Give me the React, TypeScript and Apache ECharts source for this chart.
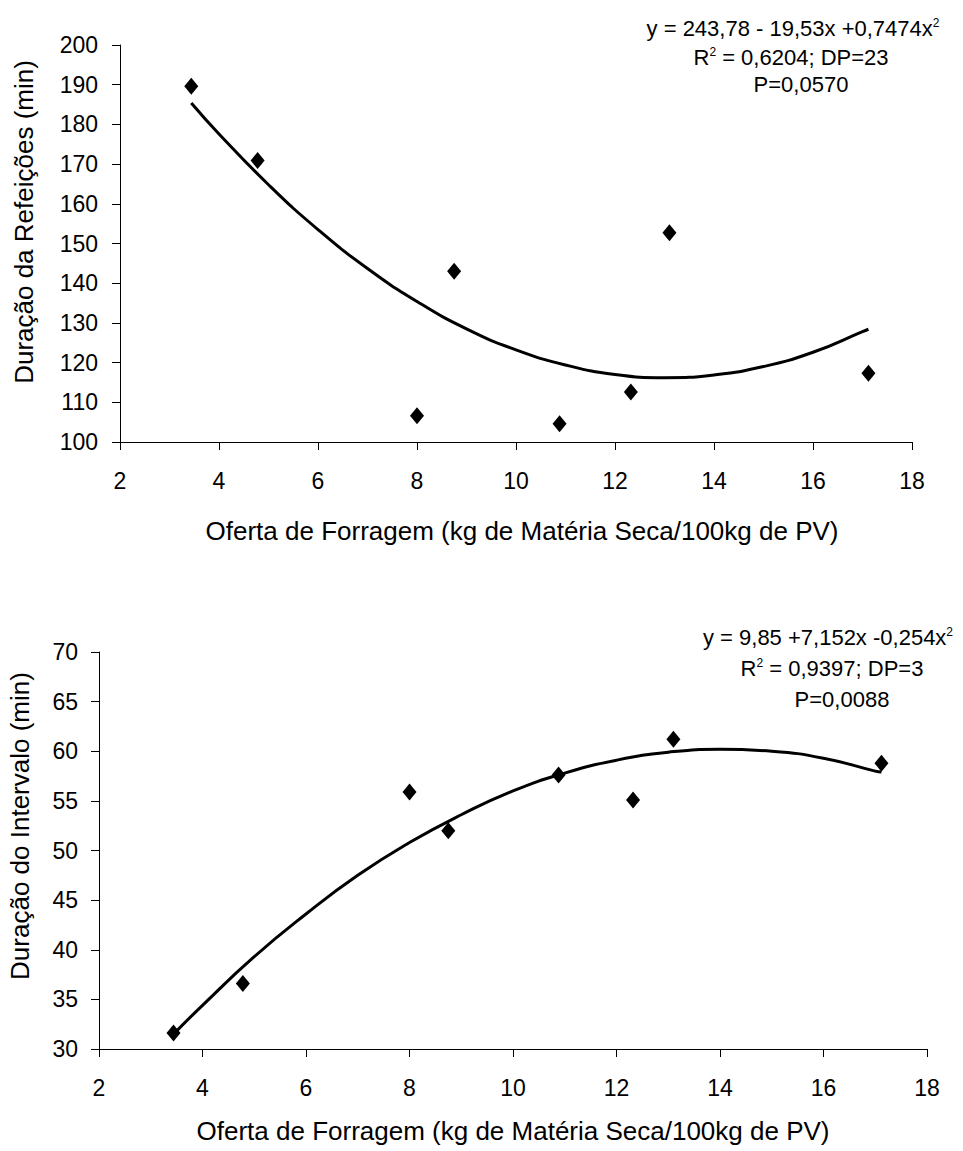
import React, { useEffect, useRef } from "react";
import * as echarts from "echarts";

// Oferta de Forragem (kg MS/100kg PV)
const ofertaX = [3.44, 4.78, 8.0, 8.75, 10.88, 12.32, 13.1, 17.12];
// Duração da Refeições (min)
const refeicoesY = [189.6, 170.9, 106.6, 143.0, 104.6, 112.6, 152.7, 117.3];
// Duração do Intervalo (min)
const intervaloY = [31.6, 36.6, 55.9, 52.0, 57.6, 55.1, 61.2, 58.8];

// Trend curves
const curveX = [3.44, 4, 5, 6, 7, 8, 9, 10, 11, 12, 13, 14, 15, 16, 17, 17.12];
const refeicoesCurve = [185.4, 177.6, 164.8, 153.5, 143.7, 135.4, 128.5, 123.2, 119.4, 117.0, 116.2, 116.9, 119.0, 122.6, 127.8, 128.4];
const intervaloCurve = [31.5, 34.4, 39.3, 43.6, 47.5, 50.8, 53.6, 56.0, 57.8, 59.1, 59.9, 60.2, 60.0, 59.3, 58.0, 57.9];

const xTitle = "Oferta de Forragem (kg de Matéria Seca/100kg de PV)";
const yTitleTop = "Duração da Refeições (min)";
const yTitleBottom = "Duração do Intervalo (min)";

const FONT = "Liberation Sans, Arial, sans-serif";

function pairs(xs: number[], ys: number[]) {
  return xs.map((x, i) => [x, ys[i]]);
}

export default function App() {
  const ref = useRef<HTMLDivElement>(null);
  useEffect(() => {
    document.body.style.margin = "0";
    const chart = echarts.init(ref.current!, null, { renderer: "svg" });
    const axisLine = { show: true, lineStyle: { color: "#000", width: 1 } };
    const axisTick = { show: true, inside: false, length: 8, lineStyle: { color: "#000" } };
    const labelStyle = { color: "#000", fontSize: 23, fontFamily: FONT };
    const xAxisBase = {
      type: "value",
      min: 2,
      max: 18,
      interval: 2,
      axisLine,
      axisTick,
      axisLabel: { ...labelStyle, margin: 27 },
      splitLine: { show: false },
    };
    const rich = { sup: { fontSize: 12, fontFamily: FONT, verticalAlign: "top", color: "#000", padding: [0, 0, 6, 0] } };
    const annot = (x: number, y: number, text: string, align = "center") => ({
      type: "text",
      x,
      y,
      style: {
        text,
        fill: "#000",
        fontSize: 22,
        fontFamily: FONT,
        align,
        verticalAlign: "middle",
        rich,
      },
    });
    const titleStyle = { fill: "#000", fontSize: 26, fontFamily: FONT, align: "center", verticalAlign: "middle" };
    const scatterBase = {
      type: "scatter",
      symbol: "diamond",
      symbolSize: [14, 17],
      itemStyle: { color: "#000", opacity: 1 },
    };
    chart.setOption({
      animation: false,
      backgroundColor: "#fff",
      grid: [
        { left: 120, top: 45, width: 792, height: 397 },
        { left: 99, top: 652, width: 828, height: 397 },
      ],
      xAxis: [
        { ...xAxisBase, gridIndex: 0 },
        { ...xAxisBase, gridIndex: 1 },
      ],
      yAxis: [
        {
          type: "value",
          gridIndex: 0,
          min: 100,
          max: 200,
          interval: 10,
          axisLine,
          axisTick,
          axisLabel: { ...labelStyle, margin: 22 },
          splitLine: { show: false },
        },
        {
          type: "value",
          gridIndex: 1,
          min: 30,
          max: 70,
          interval: 5,
          axisLine,
          axisTick,
          axisLabel: { ...labelStyle, margin: 21 },
          splitLine: { show: false },
        },
      ],
      series: [
        {
          type: "line",
          xAxisIndex: 0,
          yAxisIndex: 0,
          data: pairs(curveX, refeicoesCurve),
          smooth: true,
          showSymbol: false,
          lineStyle: { color: "#000", width: 3 },
        },
        { ...scatterBase, xAxisIndex: 0, yAxisIndex: 0, data: pairs(ofertaX, refeicoesY) },
        {
          type: "line",
          xAxisIndex: 1,
          yAxisIndex: 1,
          data: pairs(curveX, intervaloCurve),
          smooth: true,
          showSymbol: false,
          lineStyle: { color: "#000", width: 3 },
        },
        { ...scatterBase, xAxisIndex: 1, yAxisIndex: 1, data: pairs(ofertaX, intervaloY) },
      ],
      graphic: [
        annot(793, 28, "y = 243,78 - 19,53x +0,7474x{sup|2}"),
        annot(791, 57, "R{sup|2} = 0,6204; DP=23"),
        annot(801, 84, "P=0,0570"),
        annot(828, 637, "y = 9,85 +7,152x -0,254x{sup|2}"),
        annot(832, 668, "R{sup|2} = 0,9397; DP=3"),
        annot(842, 699, "P=0,0088"),
        { type: "text", x: 522, y: 531, style: { ...titleStyle, text: xTitle } },
        { type: "text", x: 513, y: 1131, style: { ...titleStyle, text: xTitle } },
        { type: "text", x: 24, y: 222, rotation: Math.PI / 2, style: { ...titleStyle, text: yTitleTop } },
        { type: "text", x: 20, y: 826, rotation: Math.PI / 2, style: { ...titleStyle, text: yTitleBottom } },
      ],
    });
    return () => chart.dispose();
  }, []);
  return <div ref={ref} style={{ width: 963, height: 1151 }} />;
}
